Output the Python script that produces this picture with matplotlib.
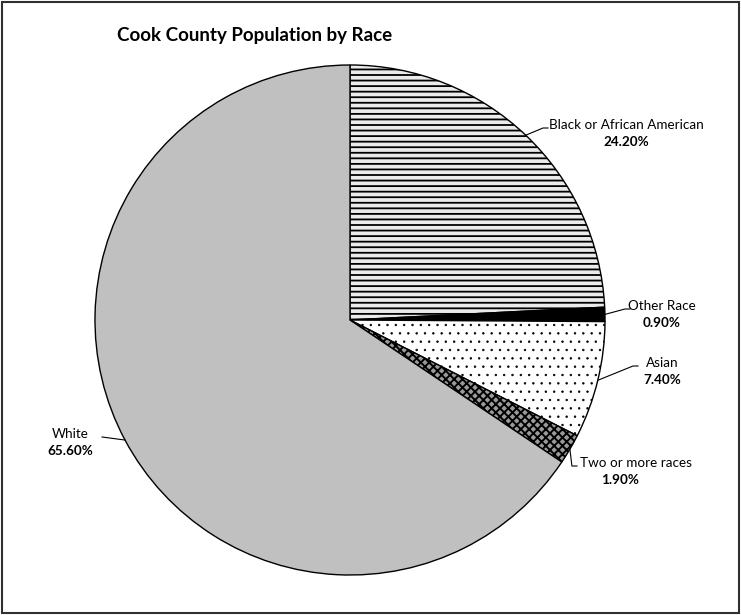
import numpy as np
import matplotlib
matplotlib.use("Agg")
import matplotlib.pyplot as plt
from matplotlib.patches import Rectangle

categories = ["Black or African American", "Other Race", "Asian", "Two or more races", "White"]
values = [24.2, 0.9, 7.4, 1.9, 65.6]
pct_labels = ["24.20%", "0.90%", "7.40%", "1.90%", "65.60%"]

plt.rcParams['font.family'] = ['Lato', 'DejaVu Sans']

W, H = 741, 615
fig = plt.figure(figsize=(W / 100, H / 100), dpi=100)
ax = fig.add_axes([0, 0, 1, 1])

cx, cy, R = 350, 295, 255
faces = ["#ebebeb", "black", "white", "#9a9a9a", "#c0c0c0"]
hatches = ["---", None, "..", "xxxx", None]
hcolors = ["#555555", "black", "#505050", "#2a2a2a", "black"]
hlws = [1.3, 1.0, 0.5, 1.4, 1.0]

wedges, _ = ax.pie(values, center=(cx, cy), radius=R, startangle=90,
                   counterclock=False, explode=[0.012] * 5,
                   wedgeprops=dict(linewidth=1.0, edgecolor="black"))
for w, fc, hc, hh, hl in zip(wedges, faces, hcolors, hatches, hlws):
    w.set_facecolor(fc)
    if hh:
        w.set_hatch(hh)
        if hasattr(w, "set_hatchcolor"):
            w.set_hatchcolor(hc)
        else:
            w._hatch_color = matplotlib.colors.to_rgba(hc)
        if hasattr(w, "set_hatch_linewidth"):
            w.set_hatch_linewidth(hl)
        else:
            w._hatch_linewidth = hl
    w.set_edgecolor("black")

ax.set_aspect('equal')
ax.set_xlim(0, W)
ax.set_ylim(0, H)
ax.axis('off')

# label layout: (text x, text y (pixel-from-top), ha, elbow x)
label_pos = [(626, 125, 'center', 548),
             (662, 306, 'center', 630),
             (662, 363, 'center', 638),
             (580, 463, 'left', 577),
             (70, 434, 'center', 127)]

for w, cat, pct, (tx, ty, ha, ex) in zip(wedges, categories, pct_labels, label_pos):
    ang = np.deg2rad((w.theta1 + w.theta2) / 2)
    px = w.center[0] + R * np.cos(ang)
    py = w.center[1] + R * np.sin(ang)
    ty_d = H - ty
    if cat == "Two or more races":
        ax.plot([px, px + 2, ex], [py, ty_d - 3, ty_d - 3], color="black", lw=0.8)
    elif cat == "White":
        ax.plot([px, ex - 25], [py, ty_d - 3], color="black", lw=0.8)
    else:
        ax.plot([px, ex - 5, ex], [py, ty_d - 3, ty_d - 3], color="black", lw=0.8)
    ax.text(tx, ty_d, cat, ha=ha, va='center', fontsize=9.7)
    px2 = tx if ha == 'center' else tx + 40
    ax.text(px2, ty_d - 17, pct, ha='center', va='center', fontsize=9.7, fontweight='bold')

ax.text(255, H - 35, "Cook County Population by Race", ha='center', va='center',
        fontsize=13.5, fontweight='bold')

fig.patches.append(Rectangle((2, 2), W - 4, H - 4, transform=None, fill=False,
                             edgecolor="#303030", linewidth=1.5))

fig.savefig("out.png", dpi=100)
